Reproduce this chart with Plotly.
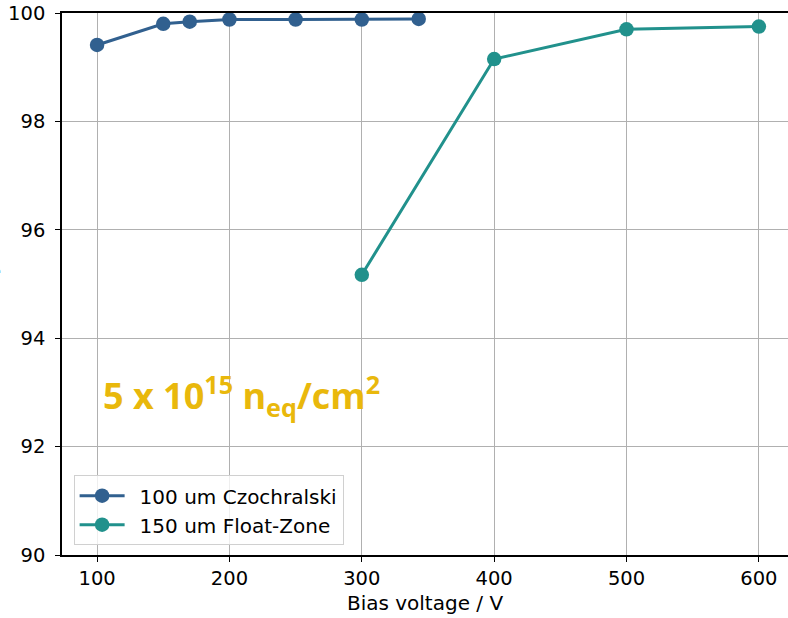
import plotly.graph_objects as go

cz_voltage = [100, 150, 170, 200, 250, 300, 343]
cz_eff = [99.41, 99.80, 99.84, 99.88, 99.88, 99.88, 99.89]
fz_voltage = [300, 400, 500, 600]
fz_eff = [95.17, 99.15, 99.70, 99.75]
x_ticks = [100, 200, 300, 400, 500, 600]
y_ticks = [90, 92, 94, 96, 98, 100]

cz_color = "#31608f"
fz_color = "#21918c"
font_main = "DejaVu Sans"

fig = go.Figure()
fig.add_trace(go.Scatter(
    x=cz_voltage, y=cz_eff, mode="lines+markers", name="\u2002100 um Czochralski",
    line=dict(color=cz_color, width=3), marker=dict(color=cz_color, size=14.5),
))
fig.add_trace(go.Scatter(
    x=fz_voltage, y=fz_eff, mode="lines+markers", name="\u2002150 um Float-Zone",
    line=dict(color=fz_color, width=3), marker=dict(color=fz_color, size=14.5),
))

W, H = 788, 618
left, right, top, bottom = 62, 788, 13, 555

fig.update_layout(
    width=W, height=H,
    margin=dict(l=left, r=W - right, t=top, b=H - bottom),
    paper_bgcolor="white", plot_bgcolor="white",
    font=dict(family=font_main, size=19.5, color="#000000"),
    showlegend=True,
    legend=dict(
        x=0.016, y=0.018, xanchor="left", yanchor="bottom",
        bgcolor="rgba(255,255,255,0.8)", bordercolor="#d0d0d0", borderwidth=1,
        font=dict(family=font_main, size=20),
        itemwidth=45, tracegroupgap=2,
    ),
    xaxis=dict(
        range=[73.5, 622], tickvals=x_ticks, ticktext=[str(v) for v in x_ticks],
        showgrid=True, gridcolor="#b0b0b0", gridwidth=1,
        showline=True, linecolor="black", linewidth=1.5, mirror=True,
        ticks="outside", ticklen=5, tickcolor="black", tickwidth=1.2,
        tickfont=dict(size=19.5),
        zeroline=False,
        title=dict(text="Bias voltage / V", font=dict(size=20), standoff=7),
    ),
    yaxis=dict(
        range=[90, 100], tickvals=y_ticks, ticktext=[str(v) for v in y_ticks],
        showgrid=True, gridcolor="#b0b0b0", gridwidth=1,
        showline=True, linecolor="black", linewidth=1.5, mirror=False,
        ticks="outside", ticklen=5, tickcolor="black", tickwidth=1.2,
        tickfont=dict(size=19.5), ticklabelstandoff=6,
        zeroline=False,
    ),
)

fig.add_annotation(
    text="Efficiency / (%)", textangle=-90,
    xref="paper", yref="paper", x=(3 - left) / (right - left), y=0.5,
    xanchor="right", yanchor="middle", showarrow=False,
    font=dict(family=font_main, size=20, color="black"),
)

fig.add_annotation(
    text="<b>5 x 10<sup>15</sup> n<sub>eq</sub>/cm<sup>2</sup></b>",
    xref="x", yref="y", x=103, y=92.95, xanchor="left", yanchor="middle",
    showarrow=False,
    font=dict(family="Open Sans", size=36, color="#e9b80c"),
)

fig.write_html(
    "out.html",
    config={"displayModeBar": False},
    post_script="document.body.style.margin='0';document.body.style.padding='0';",
)
